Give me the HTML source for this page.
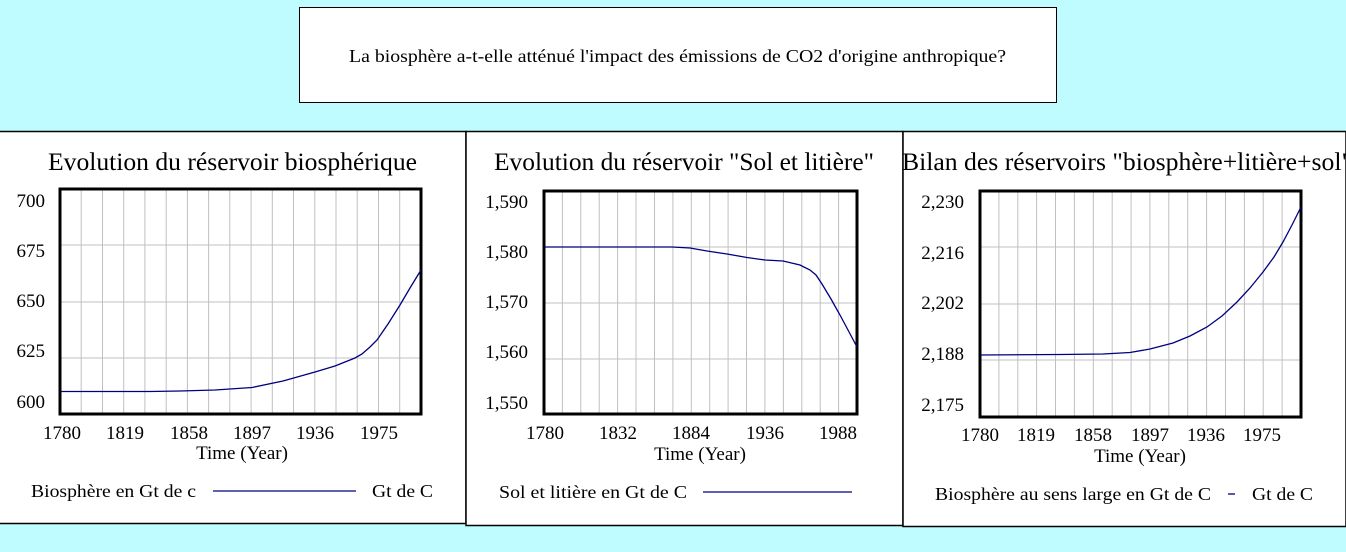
<!DOCTYPE html>
<html><head><meta charset="utf-8"><style>
html,body{margin:0;padding:0;background:#bffcff;}
svg{display:block;font-family:"Liberation Serif",serif;}
</style></head><body>
<svg width="1346" height="552" viewBox="0 0 1346 552" xmlns="http://www.w3.org/2000/svg">
<rect x="0" y="0" width="1346" height="552" fill="#bffcff"/>
<rect x="299.5" y="7.5" width="757" height="95" fill="#fff" stroke="#000" stroke-width="1"/>
<text x="349" y="62" font-size="18" textLength="657" lengthAdjust="spacingAndGlyphs" fill="#000">La biosphère a-t-elle atténué l'impact des émissions de CO2 d'origine anthropique?</text>

<!-- Panels -->
<rect x="-1" y="131.5" width="467" height="392" fill="#fff" stroke="#000" stroke-width="1.5"/>
<rect x="466" y="131.5" width="437" height="394" fill="#fff" stroke="#000" stroke-width="1.5"/>
<rect x="903" y="131.5" width="443" height="395" fill="#fff" stroke="#000" stroke-width="1.5"/>

<!-- Panel 1 -->
<text x="48" y="170" font-size="25" textLength="369" lengthAdjust="spacingAndGlyphs" fill="#000">Evolution du réservoir biosphérique</text>
<g stroke="#c0c0c0" stroke-width="1">
<path d="M81.2 189V414M102.5 189V414M123.7 189V414M144.9 189V414M166.2 189V414M187.4 189V414M208.6 189V414M229.8 189V414M251.1 189V414M272.3 189V414M293.5 189V414M314.8 189V414M336 189V414M357.2 189V414M378.5 189V414M399.7 189V414M60 245H421M60 302H421M60 358H421"/>
</g>
<rect x="60" y="189" width="361" height="225" fill="none" stroke="#000" stroke-width="3"/>
<path d="M61 391.5L150 391.5L180 391L215 390L252 387.5L283 381L315 372L335 366L345 362L355 358L362 354L370 347L377 340L388 324L400 305L410 288L421 270" fill="none" stroke="#000080" stroke-width="1.3"/>
<g font-size="19" text-anchor="end" fill="#000">
<text x="45" y="207">700</text><text x="45" y="257">675</text><text x="45" y="307">650</text><text x="45" y="357">625</text><text x="45" y="408">600</text>
</g>
<g font-size="19" text-anchor="middle" fill="#000">
<text x="62" y="439">1780</text><text x="125" y="439">1819</text><text x="189" y="439">1858</text><text x="252" y="439">1897</text><text x="315" y="439">1936</text><text x="379" y="439">1975</text>
<text x="242" y="459">Time (Year)</text>
</g>
<text x="31" y="497" font-size="18" textLength="165" lengthAdjust="spacingAndGlyphs" fill="#000">Biosphère en Gt de c</text>
<line x1="213" y1="491" x2="356" y2="491" stroke="#000080" stroke-width="1.3"/>
<text x="372" y="497" font-size="18" textLength="61" lengthAdjust="spacingAndGlyphs" fill="#000">Gt de C</text>

<!-- Panel 2 -->
<text x="494" y="170" font-size="25" textLength="380" lengthAdjust="spacingAndGlyphs" fill="#000">Evolution du réservoir "Sol et litière"</text>
<g stroke="#c0c0c0" stroke-width="1">
<path d="M562.4 191V414M580.8 191V414M599.2 191V414M617.6 191V414M636 191V414M654.5 191V414M672.9 191V414M691.3 191V414M709.7 191V414M728.1 191V414M746.5 191V414M764.9 191V414M783.4 191V414M801.8 191V414M820.2 191V414M838.6 191V414M544 247H857M544 303H857M544 359H857"/>
</g>
<rect x="544" y="191" width="313" height="223" fill="none" stroke="#000" stroke-width="3"/>
<path d="M545 247L672 247L690 248L707 251L727 254L747 257.5L765 260L783 261L800 265L810 270L816 275L822 284L831 299L840 315L848 330L857 347" fill="none" stroke="#000080" stroke-width="1.3"/>
<g font-size="19" text-anchor="end" fill="#000">
<text x="528" y="208">1,590</text><text x="528" y="258">1,580</text><text x="528" y="308">1,570</text><text x="528" y="358">1,560</text><text x="528" y="409">1,550</text>
</g>
<g font-size="19" text-anchor="middle" fill="#000">
<text x="545" y="439">1780</text><text x="618" y="439">1832</text><text x="691" y="439">1884</text><text x="765" y="439">1936</text><text x="838" y="439">1988</text>
<text x="700" y="460">Time (Year)</text>
</g>
<text x="499" y="498" font-size="18" textLength="188" lengthAdjust="spacingAndGlyphs" fill="#000">Sol et litière en Gt de C</text>
<line x1="703" y1="492" x2="852" y2="492" stroke="#000080" stroke-width="1.3"/>

<!-- Panel 3 -->
<text x="902" y="170" font-size="25" textLength="450" lengthAdjust="spacingAndGlyphs" fill="#000">Bilan des réservoirs "biosphère+litière+sol"</text>
<g stroke="#c0c0c0" stroke-width="1">
<path d="M998.9 191V417M1017.8 191V417M1036.6 191V417M1055.5 191V417M1074.4 191V417M1093.3 191V417M1112.2 191V417M1131.1 191V417M1149.9 191V417M1168.8 191V417M1187.7 191V417M1206.6 191V417M1225.5 191V417M1244.4 191V417M1263.2 191V417M1282.1 191V417M980 247H1301M980 304H1301M980 360H1301"/>
</g>
<rect x="980" y="191" width="321" height="226" fill="none" stroke="#000" stroke-width="3"/>
<path d="M981 355L1060 354.5L1103 354L1130 352.5L1150 349L1173 343L1190 336L1207 327L1222 316L1237 302L1250 288L1263 272L1274 257L1283 242L1292 225L1301 207" fill="none" stroke="#000080" stroke-width="1.3"/>
<g font-size="19" text-anchor="end" fill="#000">
<text x="964" y="208">2,230</text><text x="964" y="259">2,216</text><text x="964" y="309">2,202</text><text x="964" y="360">2,188</text><text x="964" y="411">2,175</text>
</g>
<g font-size="19" text-anchor="middle" fill="#000">
<text x="980" y="441">1780</text><text x="1036" y="441">1819</text><text x="1093" y="441">1858</text><text x="1150" y="441">1897</text><text x="1206" y="441">1936</text><text x="1262" y="441">1975</text>
<text x="1140" y="462">Time (Year)</text>
</g>
<text x="935" y="500" font-size="18" textLength="276" lengthAdjust="spacingAndGlyphs" fill="#000">Biosphère au sens large en Gt de C</text>
<line x1="1228" y1="494" x2="1235" y2="494" stroke="#000080" stroke-width="1.3"/>
<text x="1252" y="500" font-size="18" textLength="61" lengthAdjust="spacingAndGlyphs" fill="#000">Gt de C</text>
</svg>
</body></html>
